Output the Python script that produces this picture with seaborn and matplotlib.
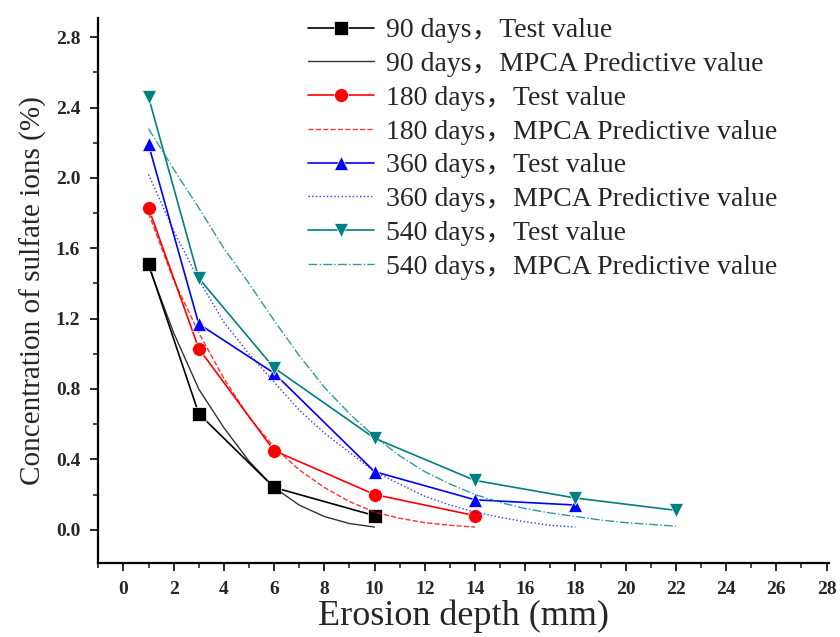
import numpy as np
import pandas as pd
import matplotlib
matplotlib.use("Agg")
import matplotlib.pyplot as plt
from matplotlib.ticker import MultipleLocator, FormatStrFormatter
import seaborn as sns

# test values
x90 = [1, 3, 6, 10]
y90 = [1.51, 0.66, 0.24, 0.08]
x180 = [1, 3, 6, 10, 14]
y180 = [1.83, 1.03, 0.45, 0.20, 0.08]
x360 = [1, 3, 6, 10, 14, 18]
y360 = [2.19, 1.17, 0.89, 0.33, 0.17, 0.14]
x540 = [1, 3, 6, 10, 14, 18, 22]
y540 = [2.46, 1.43, 0.92, 0.52, 0.28, 0.18, 0.11]

# MPCA predictive values
px90 = [1, 2, 3, 4, 5, 6, 7, 8, 9, 10]
py90 = [1.50, 1.12, 0.80, 0.58, 0.39, 0.24, 0.14, 0.075, 0.035, 0.015]
px180 = [1, 2, 3, 4, 5, 6, 7, 8, 9, 10, 11, 12, 13, 14]
py180 = [1.80, 1.42, 1.12, 0.86, 0.64, 0.47, 0.34, 0.24, 0.16, 0.10, 0.065, 0.04, 0.025, 0.015]
px360 = list(range(1, 19))
py360 = [2.02, 1.70, 1.42, 1.18, 1.00, 0.84, 0.68, 0.55, 0.44, 0.33, 0.26, 0.19, 0.14, 0.10,
         0.07, 0.045, 0.025, 0.015]
px540 = list(range(1, 23))
py540 = [2.28, 2.05, 1.83, 1.60, 1.40, 1.19, 0.99, 0.81, 0.66, 0.53, 0.42, 0.33, 0.26, 0.20,
         0.155, 0.12, 0.095, 0.075, 0.055, 0.04, 0.03, 0.02]

days = ["90", "180", "360", "540"]
colors = ["#000000", "#ff0000", "#0000ff", "#008080"]
markers = ["s", "o", "^", "v"]
styles = ["-", "--", ":", "-."]

sns.set_style("ticks")
serif = ["Liberation Serif", "Noto Sans CJK SC", "DejaVu Sans"]
plt.rcParams["font.family"] = serif

fig = plt.figure(figsize=(8.4, 6.37), dpi=100)
ax = fig.add_axes([0.117, 0.116, 0.870, 0.856])

tests = [(x90, y90), (x180, y180), (x360, y360), (x540, y540)]
preds = [(px90, py90), (px180, py180), (px360, py360), (px540, py540)]

for i in range(4):
    df_t = pd.DataFrame({"x": tests[i][0], "y": tests[i][1]})
    df_p = pd.DataFrame({"x": preds[i][0], "y": preds[i][1]})
    sns.lineplot(data=df_t, x="x", y="y", ax=ax, color=colors[i], marker=markers[i],
                 markersize=10, markeredgewidth=0.5, linewidth=1.2, sort=False,
                 label=days[i] + " days\uff0cTest value")
    sns.lineplot(data=df_p, x="x", y="y", ax=ax, color=colors[i], linestyle=styles[i],
                 linewidth=1.0, alpha=0.8, sort=False,
                 label=days[i] + " days\uff0cMPCA Predictive value")

ax.set_xlim(-1, 28.1)
ax.set_ylim(-0.19, 2.91)
ax.xaxis.set_major_locator(MultipleLocator(2))
ax.xaxis.set_minor_locator(MultipleLocator(1))
ax.yaxis.set_major_locator(MultipleLocator(0.4))
ax.yaxis.set_minor_locator(MultipleLocator(0.2))
ax.yaxis.set_major_formatter(FormatStrFormatter("%.1f"))

for sp in ["top", "right"]:
    ax.spines[sp].set_visible(False)
for sp in ["left", "bottom"]:
    ax.spines[sp].set_linewidth(1.6)
    ax.spines[sp].set_color("black")

ax.tick_params(which="major", direction="out", length=6, width=1.4, labelsize=14, pad=7)
ax.tick_params(which="minor", direction="out", length=3.5, width=1.2)
for lab in ax.get_xticklabels() + ax.get_yticklabels():
    lab.set_fontweight("bold")

ax.set_xlabel("Erosion depth (mm)", fontsize=26, labelpad=1)
ax.set_ylabel("Concentration of sulfate ions (%)", fontsize=21, labelpad=6)

leg = ax.legend(loc="upper left", bbox_to_anchor=(0.367, 0.972),
                bbox_transform=fig.transFigure, frameon=False,
                fontsize=20, handlelength=2.35, labelspacing=0.3, handletextpad=0.43,
                borderaxespad=0, borderpad=0)

fig.savefig("out.png", dpi=100)
